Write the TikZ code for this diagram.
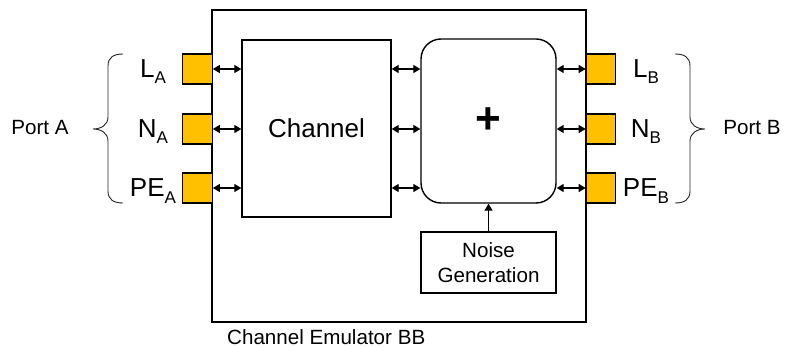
\documentclass[tikz,border=0pt]{standalone}
\usepackage{fontspec}
\setmainfont{Liberation Sans}
\usetikzlibrary{arrows.meta}
\definecolor{portgold}{RGB}{255,192,0}
% subscript used in the conductor labels
\newcommand\psub[1]{\raisebox{-6pt}{\fontsize{17}{17}\selectfont #1}}
\begin{document}
\begin{tikzpicture}[x=1pt,y=-1pt,
  box/.style={draw,line width=1.4pt,inner sep=0pt},
  port/.style={draw,line width=1.2pt,fill=portgold,minimum width=29.5pt,minimum height=30pt,inner sep=0pt},
  lbl/.style={font=\fontsize{20.6}{24}\selectfont,inner sep=0pt,anchor=base},
  cond/.style={font=\fontsize{26}{30}\selectfont,inner sep=0pt,anchor=base},
  link/.style={line width=1.3pt,{Triangle[length=7pt,width=8pt]}-{Triangle[length=7pt,width=8pt]}},
  feed/.style={line width=1.3pt,-{Triangle[length=7pt,width=8pt]}},
  bracket/.style={line width=0.9pt,black!85}]
\useasboundingbox (0,0) rectangle (786,347);

% emulator housing and inner blocks
\node[box,minimum width=374pt,minimum height=312pt] (emu) at (399,166) {};
\node[box,minimum width=149pt,minimum height=177pt,font=\fontsize{26}{30}\selectfont] (chan) at (316.5,128.5) {Channel};
\node[box,rounded corners=20pt,minimum width=135pt,minimum height=164pt,font=\fontsize{44}{44}\selectfont\bfseries] (add) at (488.5,121) {+};
\node[box,minimum width=135pt,minimum height=61pt,align=center,font=\fontsize{20.6}{25}\selectfont] (noise) at (488.5,262.5) {Noise\\Generation};

% port terminals
\node[port] (LA)  at (197.5,69)  {};
\node[port] (NA)  at (197.5,129) {};
\node[port] (PEA) at (197.5,188) {};
\node[port] (LB)  at (601,69)  {};
\node[port] (NB)  at (601,129) {};
\node[port] (PEB) at (601,188) {};

% terminal labels
\node[cond] (tLA)  at (153,78)    {L\psub{A}};
\node[cond] (tNA)  at (153,137.5) {N\psub{A}};
\node[cond] (tPEA) at (153,197)   {PE\psub{A}};
\node[cond] (tLB)  at (646,78)    {L\psub{B}};
\node[cond] (tNB)  at (646,137.5) {N\psub{B}};
\node[cond] (tPEB) at (646,197)   {PE\psub{B}};

\node[lbl] (portA) at (40,135)  {Port A};
\node[lbl] (portB) at (752,135) {Port B};
\node[lbl,anchor=base west] (caption) at (227,344) {Channel Emulator BB};

% signal paths
\foreach \p in {LA,NA,PEA} {
  \draw[link] (\p.east) -- (\p.east -| chan.west);
  \draw[link] (\p.east -| chan.east) -- (\p.east -| add.west);
}
\foreach \p in {LB,NB,PEB}
  \draw[link] (\p.west -| add.east) -- (\p.west);
\draw[feed] (noise.north) -- (add.south);

% braces grouping the terminals of each port
\draw[bracket] (123,54) .. controls (114,54) and (108,57) .. (108,66) -- (108,117)
  .. controls (108,125) and (101,129) .. (93,129)
  .. controls (101,129) and (108,133) .. (108,141) -- (108,191)
  .. controls (108,200) and (114,203) .. (123,203);
\draw[bracket] (675,54) .. controls (684,54) and (690,57) .. (690,66) -- (690,117)
  .. controls (690,125) and (697,129) .. (705,129)
  .. controls (697,129) and (690,133) .. (690,141) -- (690,191)
  .. controls (690,200) and (684,203) .. (675,203);
\end{tikzpicture}
\end{document}
